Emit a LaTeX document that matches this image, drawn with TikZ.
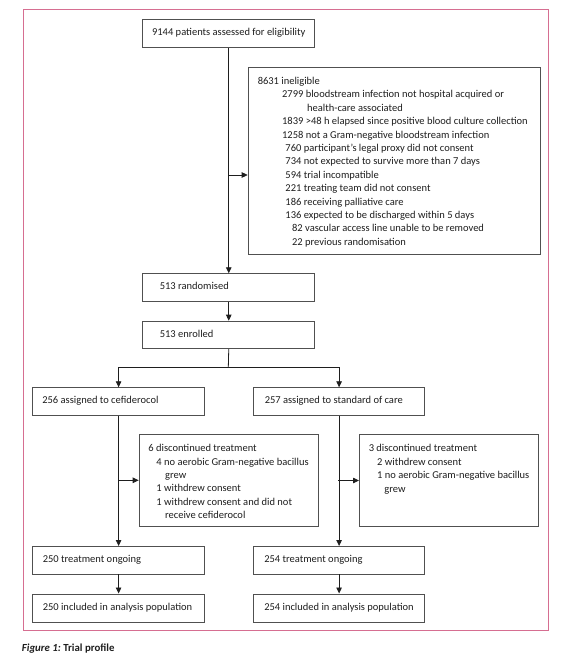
\documentclass[tikz,border=0pt]{standalone}
\usepackage{fontspec}
\setmainfont{Carlito}
\usetikzlibrary{arrows.meta}
\definecolor{framepink}{RGB}{214,110,145}
\definecolor{boxgray}{RGB}{80,80,80}
\definecolor{ink}{RGB}{30,30,30}
\newcommand{\boxline}[3]{\makebox[#1][l]{\hspace*{#2}\rule[-3pt]{0pt}{9.8pt}#3}}
\newcommand{\itemline}[2]{\hspace*{#1}#2\\}
\begin{document}
\begin{tikzpicture}[x=1pt,y=-1pt,
  font=\fontsize{10.5}{13.4}\selectfont, text=ink,
  box/.style={draw=boxgray, line width=0.9pt, fill=white, rectangle, inner sep=0pt, anchor=north west},
  conn/.style={draw=ink, line width=0.8pt},
  arr/.style={conn, -{Triangle[length=6pt,width=5.5pt]}}]
\useasboundingbox (0,0) rectangle (561,655);
\draw[framepink, line width=0.8pt] (23.3,9.3) rectangle (548.3,630.7);

\node[box, minimum width=172pt, minimum height=28pt] (top) at (142.3,19.3)
  {\makebox[172pt][c]{\rule[-3pt]{0pt}{9.8pt}9144 patients assessed for eligibility}};

\node[box] (inel) at (247.7,66.7) {\begin{minipage}[t][187.3pt][t]{292.3pt}
\rule{0pt}{17.4pt}\itemline{9.6pt}{8631 ineligible}
\itemline{34pt}{2799 bloodstream infection not hospital acquired or}
\itemline{59pt}{health-care associated}
\itemline{34pt}{1839 >48 h elapsed since positive blood culture collection}
\itemline{34pt}{1258 not a Gram-negative bloodstream infection}
\itemline{37.3pt}{760 participant’s legal proxy did not consent}
\itemline{37.3pt}{734 not expected to survive more than 7 days}
\itemline{37.3pt}{594 trial incompatible}
\itemline{37.3pt}{221 treating team did not consent}
\itemline{37.3pt}{186 receiving palliative care}
\itemline{37.3pt}{136 expected to be discharged within 5 days}
\itemline{44pt}{82 vascular access line unable to be removed}
\hspace*{44pt}22 previous randomisation
\end{minipage}};

\node[box, minimum width=172pt, minimum height=27.7pt] (rand) at (142.3,273.3)
  {\boxline{172pt}{17pt}{513 randomised}};
\node[box, minimum width=172pt, minimum height=27.6pt] (enrol) at (142.3,320.7)
  {\boxline{172pt}{17pt}{513 enrolled}};

\node[box, minimum width=171.7pt, minimum height=27.4pt] (A) at (32.3,387.3)
  {\boxline{171.7pt}{9.6pt}{256 assigned to cefiderocol}};
\node[box, minimum width=170.7pt, minimum height=27.7pt] (B) at (253.3,387.3)
  {\boxline{170.7pt}{11pt}{257 assigned to standard of care}};

\node[box] (C) at (138.7,434.3) {\begin{minipage}[t][91.7pt][t]{179.6pt}
\rule{0pt}{16.9pt}\itemline{9.3pt}{6 discontinued treatment}
\itemline{17.3pt}{4 no aerobic Gram-negative bacillus}
\itemline{26pt}{grew}
\itemline{17.3pt}{1 withdrew consent}
\itemline{17.3pt}{1 withdrew consent and did not}
\hspace*{26pt}receive cefiderocol
\end{minipage}};

\node[box] (D) at (359,434.3) {\begin{minipage}[t][91.7pt][t]{179.3pt}
\rule{0pt}{17.2pt}\itemline{9.3pt}{3 discontinued treatment}
\itemline{17.7pt}{2 withdrew consent}
\itemline{17.7pt}{1 no aerobic Gram-negative bacillus}
\hspace*{25pt}grew
\end{minipage}};

\node[box, minimum width=171.7pt, minimum height=27.5pt] (E) at (32.3,546)
  {\boxline{171.7pt}{10pt}{250 treatment ongoing}};
\node[box, minimum width=170.7pt, minimum height=27.5pt] (F) at (253.3,546)
  {\boxline{170.7pt}{10.5pt}{254 treatment ongoing}};
\node[box, minimum width=171.7pt, minimum height=28pt] (G) at (32.3,593.5)
  {\boxline{171.7pt}{10pt}{250 included in analysis population}};
\node[box, minimum width=170.7pt, minimum height=28pt] (H) at (253.3,593.5)
  {\boxline{170.7pt}{10.5pt}{254 included in analysis population}};

\coordinate (j1) at (228.3,175);
\coordinate (split) at (228.3,367.3);
\coordinate (jc) at (118.3,480.3);
\coordinate (jd) at (338.3,480.5);

\draw[arr] (top.south) -- (rand.north);
\draw[arr] (j1) -- (j1 -| inel.west);
\draw[arr] (rand.south) -- (enrol.north);
\draw[conn] (enrol.south) -- (split);
\draw[arr] (split) -| (A.north);
\draw[arr] (split) -| (B.north);
\draw[arr] (A.south) -- (E.north);
\draw[arr] (jc) -- (jc -| C.west);
\draw[arr] (B.south) -- (F.north);
\draw[arr] (jd) -- (jd -| D.west);
\draw[arr] (E.south) -- (G.north);
\draw[arr] (F.south) -- (H.north);

\node[anchor=base west, inner sep=0pt] (cap) at (21.7,651)
  {\fontsize{10.8}{13}\selectfont\bfseries\itshape Figure 1:\upshape\ Trial profile};
\end{tikzpicture}
\end{document}
